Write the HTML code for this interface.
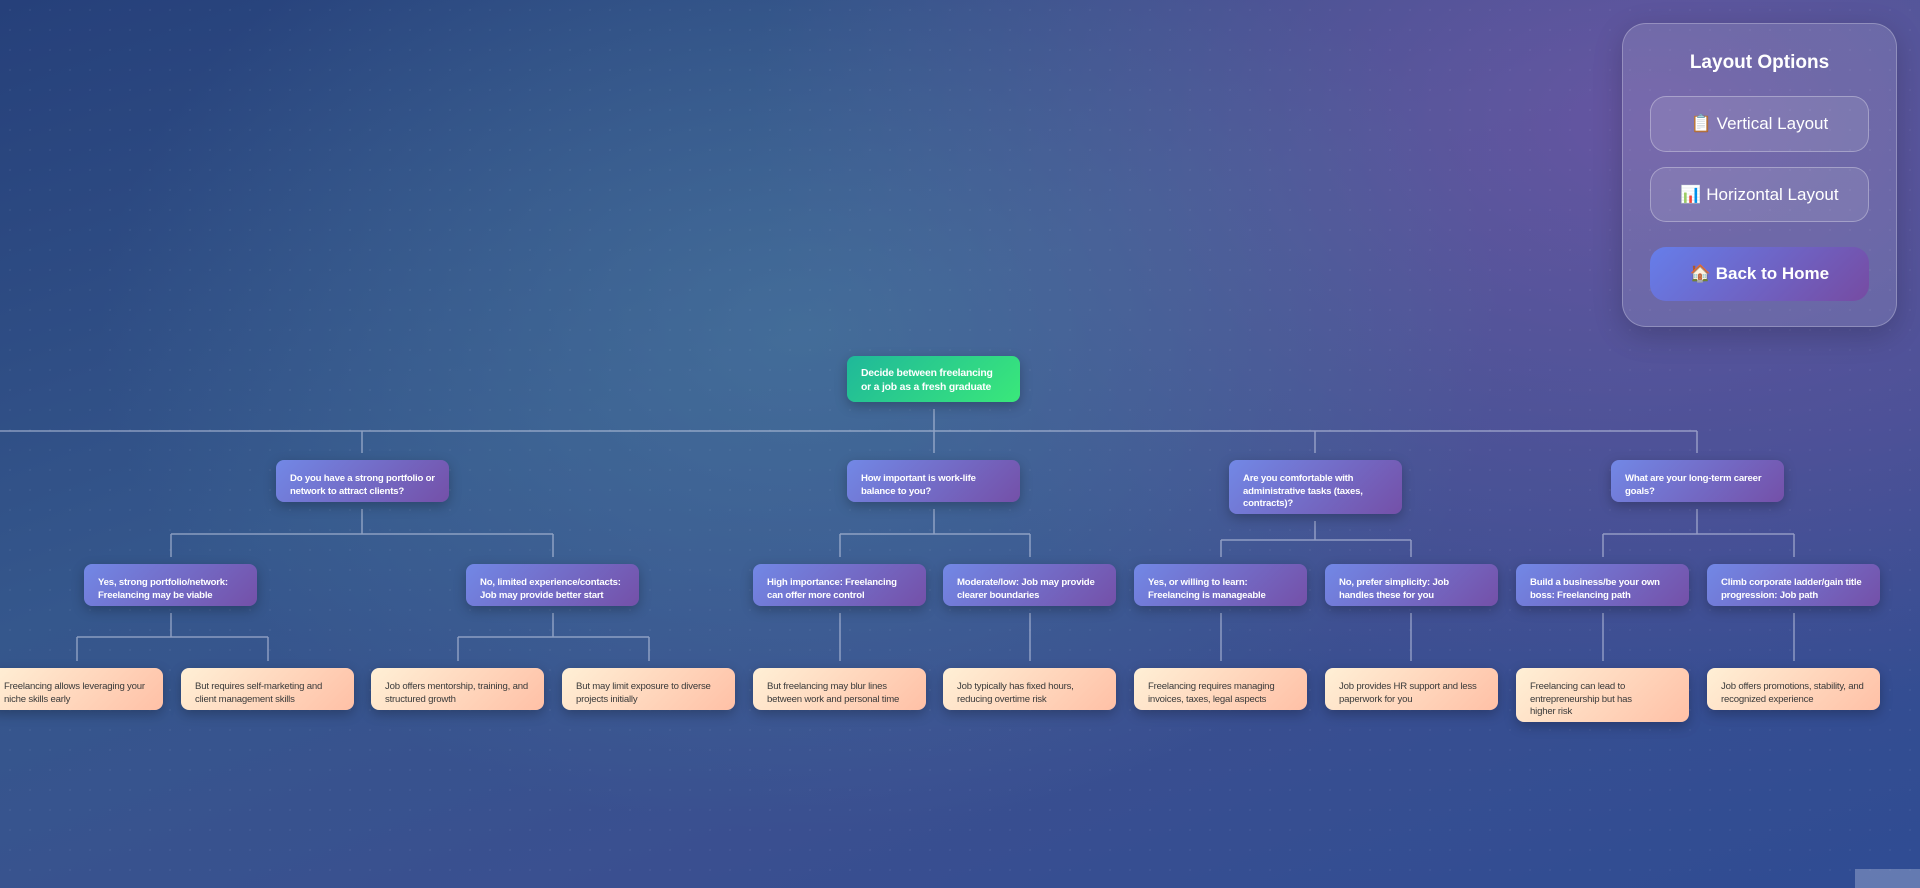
<!DOCTYPE html>
<html><head><meta charset="utf-8"><style>
*{margin:0;padding:0;box-sizing:border-box}
body{width:1920px;height:888px;overflow:hidden;position:relative;font-family:"Liberation Sans",sans-serif;
background:radial-gradient(ellipse 700px 500px at 800px 330px,rgba(75,120,160,.65),rgba(0,0,0,0) 100%),
radial-gradient(ellipse 900px 600px at 1650px 120px,rgba(110,85,165,.85),rgba(0,0,0,0) 100%),
linear-gradient(160deg,#26407a 0%,#35578c 40%,#3a4f90 70%,#2f4c93 100%);}
.dots{position:absolute;inset:0;background-image:radial-gradient(rgba(255,255,255,.06) 1px,transparent 1px);background-size:20px 20px}
.n{position:absolute;width:173px;border-radius:8px;padding:13px 12px 0 14px;font-size:9.6px;line-height:12.7px;letter-spacing:-0.2px;box-shadow:0 4px 12px rgba(0,0,0,.25)}
.q{background:linear-gradient(135deg,#7288e6,#7450a8);color:#fff;font-weight:bold}
.r{background:linear-gradient(135deg,#1fb89a,#3ae87a);color:#fff;font-weight:bold;font-size:10.4px;line-height:14px;padding:11px 18px 0 14px}
.l{background:linear-gradient(135deg,#fff0d6,#ffc0a6);color:#3a3a3a;padding-right:16px}
svg{position:absolute;left:0;top:0}
.panel{position:absolute;left:1622px;top:23px;width:275px;height:304px;border-radius:24px;background:rgba(255,255,255,.12);border:1px solid rgba(255,255,255,.25);box-shadow:0 8px 30px rgba(0,0,0,.2)}
.panel h3{position:absolute;top:28px;width:100%;text-align:center;color:#fff;font-size:19px;font-weight:bold}
.b{position:absolute;left:27px;width:219px;border-radius:16px;color:#fff;font-size:17px;text-align:center;border:1px solid rgba(255,255,255,.3);background:rgba(255,255,255,.1)}
</style></head><body><div class="dots"></div>
<svg width="1920" height="888" fill="none" stroke="rgba(210,215,235,.55)" stroke-width="1.5">
<path d="M934 409V431M0 431H1697M362 431V453M934 431V453M1315 431V453M1697 431V453"/>
<path d="M362 509V534M171 534H553M171 534V557M553 534V557"/>
<path d="M934 509V534M840 534H1030M840 534V557M1030 534V557"/>
<path d="M1315 521V540M1221 540H1411M1221 540V557M1411 540V557"/>
<path d="M1697 509V534M1603 534H1794M1603 534V557M1794 534V557"/>
<path d="M171 613V637M77 637H268M77 637V661M268 637V661"/>
<path d="M553 613V637M458 637H649M458 637V661M649 637V661"/>
<path d="M840 613V661M1030 613V661M1221 613V661M1411 613V661M1603 613V661M1794 613V661"/>
</svg>
<div class="n r" style="left:847px;top:356px;height:46px">Decide between freelancing or a job as a fresh graduate</div>
<div class="n q" style="left:276px;top:460px;height:42px">Do you have a strong portfolio or network to attract clients?</div>
<div class="n q" style="left:847px;top:460px;height:42px">How important is work-life balance to you?</div>
<div class="n q" style="left:1229px;top:460px;height:54px">Are you comfortable with administrative tasks (taxes, contracts)?</div>
<div class="n q" style="left:1611px;top:460px;height:42px">What are your long-term career goals?</div>
<div class="n q" style="left:84px;top:564px;height:42px">Yes, strong portfolio/network: Freelancing may be viable</div>
<div class="n q" style="left:466px;top:564px;height:42px">No, limited experience/contacts: Job may provide better start</div>
<div class="n q" style="left:753px;top:564px;height:42px">High importance: Freelancing can offer more control</div>
<div class="n q" style="left:943px;top:564px;height:42px">Moderate/low: Job may provide clearer boundaries</div>
<div class="n q" style="left:1134px;top:564px;height:42px">Yes, or willing to learn: Freelancing is manageable</div>
<div class="n q" style="left:1325px;top:564px;height:42px">No, prefer simplicity: Job handles these for you</div>
<div class="n q" style="left:1516px;top:564px;height:42px">Build a business/be your own boss: Freelancing path</div>
<div class="n q" style="left:1707px;top:564px;height:42px">Climb corporate ladder/gain title progression: Job path</div>
<div class="n l" style="left:-10px;top:668px;height:42px">Freelancing allows leveraging your niche skills early</div>
<div class="n l" style="left:181px;top:668px;height:42px">But requires self-marketing and client management skills</div>
<div class="n l" style="left:371px;top:668px;height:42px">Job offers mentorship, training, and structured growth</div>
<div class="n l" style="left:562px;top:668px;height:42px">But may limit exposure to diverse projects initially</div>
<div class="n l" style="left:753px;top:668px;height:42px">But freelancing may blur lines between work and personal time</div>
<div class="n l" style="left:943px;top:668px;height:42px">Job typically has fixed hours, reducing overtime risk</div>
<div class="n l" style="left:1134px;top:668px;height:42px">Freelancing requires managing invoices, taxes, legal aspects</div>
<div class="n l" style="left:1325px;top:668px;height:42px">Job provides HR support and less paperwork for you</div>
<div class="n l" style="left:1516px;top:668px;height:54px;padding-right:30px">Freelancing can lead to entrepreneurship but has higher risk</div>
<div class="n l" style="left:1707px;top:668px;height:42px">Job offers promotions, stability, and recognized experience</div>
<div class="panel"><h3>Layout Options</h3>
<div class="b" style="top:72px;height:56px;line-height:54px">📋 Vertical Layout</div>
<div class="b" style="top:143px;height:55px;line-height:53px">📊 Horizontal Layout</div>
<div class="b" style="top:223px;height:54px;line-height:54px;border:none;background:linear-gradient(135deg,#667eea,#764ba2);font-weight:bold">🏠 Back to Home</div>
</div>
<div style="position:absolute;left:1855px;top:869px;width:65px;height:19px;background:rgba(200,210,235,.35)"></div>
</body></html>
